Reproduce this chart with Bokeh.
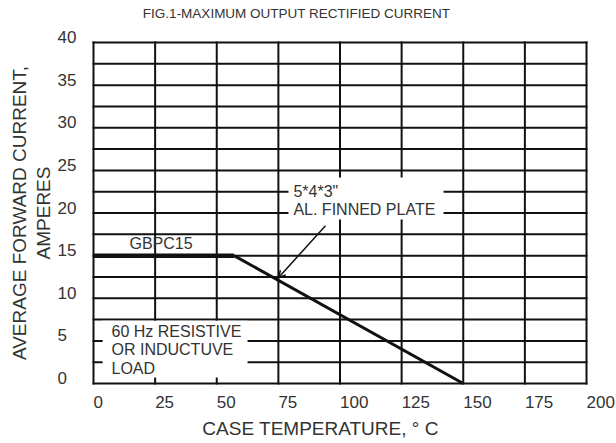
import math
from bokeh.plotting import figure
from bokeh.models import Label, Arrow, OpenHead, Range1d
from bokeh.embed import file_html
from bokeh.resources import INLINE

# ---- data ----
title_text = "FIG.1-MAXIMUM OUTPUT RECTIFIED CURRENT"
x_title = "CASE TEMPERATURE, \u00b0 C"
y_title_1 = "AVERAGE FORWARD CURRENT,"
y_title_2 = "AMPERES"
x_ticks = [0, 25, 50, 75, 100, 125, 150, 175, 200]
x_tick_labels = ["0", "25", "50", "75", "100", "125", "150", "175", "200"]
y_ticks = [0, 5, 10, 15, 20, 25, 30, 35, 40]
y_tick_labels = ["0", "5", "10", "15", "20", "25", "30", "35", "40"]
x_grid = [0, 25, 50, 75, 100, 125, 150, 175, 200]
y_grid = [0, 2.5, 5, 7.5, 10, 12.5, 15, 17.5, 20, 22.5, 25, 27.5, 30, 32.5, 35, 37.5, 40]
flat_temp = [0, 57]
flat_current = [15, 15]
slope_temp = [57, 150]
slope_current = [15, 0]
series_name = "GBPC15"
plate_lines = ['5*4*3"', "AL. FINNED PLATE"]
load_lines = ["60 Hz RESISTIVE", "OR INDUCTUVE", "LOAD"]

# ---- layout (pixels) ----
W, H = 616, 443
PX_L, PX_R, PX_T, PX_B = 93, 586, 42, 383
X0, X1, Y0, Y1 = x_grid[0], x_grid[-1], y_grid[0], y_grid[-1]
sx = (PX_R - PX_L) / (X1 - X0)
sy = (PX_B - PX_T) / (Y1 - Y0)
x_range = Range1d(X0 - PX_L / sx, X1 + (W - PX_R) / sx)
y_range = Range1d(Y0 - (H - PX_B) / sy, Y1 + PX_T / sy)

FONT = "Liberation Sans"
TXT = "#333333"
INK = "#111111"

p = figure(width=W, height=H, output_backend="svg", toolbar_location=None,
           x_axis_location=None, y_axis_location=None,
           x_range=x_range, y_range=y_range, min_border=0)
p.outline_line_color = None
p.grid.visible = False
p.background_fill_color = "white"
p.border_fill_color = "white"

# grid / frame lines
p.segment(x0=x_grid, y0=[Y0] * len(x_grid), x1=x_grid, y1=[Y1] * len(x_grid),
          line_color=INK, line_width=2, line_cap="square")
p.segment(x0=[X0] * len(y_grid), y0=y_grid, x1=[X1] * len(y_grid), y1=y_grid,
          line_color=INK, line_width=2, line_cap="square")

# white masks behind annotation texts
p.quad(left=[3.7, 79.1], right=[62.5, 142], bottom=[0.7, 19.25], top=[7.35, 24.15],
       fill_color="white", line_color=None)

# curve
p.line(flat_temp, flat_current, line_color=INK, line_width=4.5)
p.line(slope_temp, slope_current, line_color=INK, line_width=3)

def lab(x, y, text, size, xo=0, yo=0, align="left", angle=0):
    p.add_layout(Label(x=x, y=y, text=text, x_offset=xo, y_offset=yo,
                       text_font=FONT, text_font_size=size, text_color=TXT,
                       text_align=align, text_baseline="middle", angle=angle))

# tick labels
for v, t in zip(x_ticks, x_tick_labels):
    lab(v, Y0, t, "17px", xo=0, yo=-18)
for v, t in zip(y_ticks, y_tick_labels):
    lab(X0, v, t, "17px", xo=-36, yo=5.5)

# titles
lab(82.4, Y1, title_text, "13.5px", yo=29, align="center")
lab(92.1, Y0, x_title, "19px", yo=-45, align="center")
lab(X0, 20, y_title_1, "19px", xo=-74, align="center", angle=math.pi / 2)
lab(X0, 20, y_title_2, "19px", xo=-50, align="center", angle=math.pi / 2)

# annotations
lab(14.6, 16.4, series_name, "16px")
lab(81.1, 22.5, plate_lines[0], "16px")
lab(81.1, 20.4, plate_lines[1], "16px")
for i, t in enumerate(load_lines):
    lab(7.3, 6.1, t, "16px", yo=-18.5 * i)

p.add_layout(Arrow(end=OpenHead(size=7, line_width=1.5, line_color=INK),
                   x_start=94.1, y_start=18.5, x_end=75, y_end=12.4,
                   line_width=1.5, line_color=INK))

open("out.html", "w").write(file_html(p, INLINE))
